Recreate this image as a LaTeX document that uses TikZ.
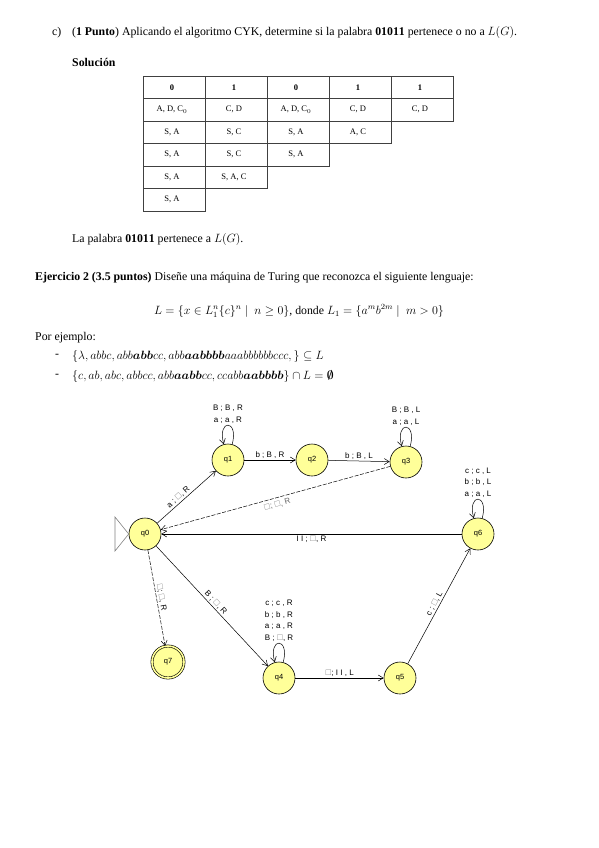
\documentclass[tikz,border=0pt]{standalone}
\usepackage{amsmath,amssymb}
\usepackage{fontspec}
\setmainfont{Liberation Serif}
\setsansfont{Liberation Sans}
\usetikzlibrary{arrows.meta}
\definecolor{amarillo}{RGB}{255,255,153}
\newcommand{\blanco}{\textcolor{black!55}{$\square$}}

\begin{document}
\begin{tikzpicture}[x=1pt,y=-1pt,>={Straight Barb[length=5pt,width=6pt]}]
\useasboundingbox (0,0) rectangle (599,848);
\tikzset{
  txt/.style={anchor=west,inner sep=0pt,font=\fontsize{11.8}{14}\selectfont},
  celda/.style={inner sep=0pt,font=\fontsize{8.5}{10}\selectfont},
  rejilla/.style={draw=black!75,line width=0.7pt},
  estado/.style={circle,draw,line width=0.6pt,fill=amarillo,minimum size=32pt,inner sep=0pt,font=\sffamily\fontsize{7.5}{9}\selectfont},
  etq/.style={inner sep=1.5pt,font=\sffamily\fontsize{8}{11.5}\selectfont},
  trans/.style={->,line width=0.5pt},
  bucle/.style={->,line width=0.5pt,out=75,in=105,looseness=8,min distance=14pt},
}

% --- Apartado c)
\node[txt] (itemc) at (52,33) {c)};
\node[txt] (enunc) at (72,33) {(\textbf{1 Punto}) Aplicando el algoritmo CYK, determine si la palabra $\mathbf{01011}$ pertenece o no a $L(G)$.};
\node[txt] (sol) at (72,62) {\textbf{Solución}};

% Tabla CYK
\def\tabx{143}
\def\taby{76}
\def\cw{62}
\def\rh{22.5}

\foreach \fila/\ncol in {0/5,1/5,2/4,3/3,4/2,5/1}
  \foreach \col in {1,...,\ncol}
    \draw[rejilla] ({\tabx+(\col-1)*\cw},{\taby+\fila*\rh}) rectangle ++(\cw,\rh);

\foreach \fila/\col/\txt in {0/1/{\textbf{0}},0/2/{\textbf{1}},0/3/{\textbf{0}},0/4/{\textbf{1}},0/5/{\textbf{1}},
    1/1/{A, D, C$_0$},1/2/{C, D},1/3/{A, D, C$_0$},1/4/{C, D},1/5/{C, D},
    2/1/{S, A},2/2/{S, C},2/3/{S, A},2/4/{A, C},
    3/1/{S, A},3/2/{S, C},3/3/{S, A},
    4/1/{S, A},4/2/{S, A, C},
    5/1/{S, A}}
  \node[celda] (c\fila\col) at ({\tabx+(\col-0.5)*\cw-2},{\taby+(\fila+0.5)*\rh}) {\txt};

\node[txt] (resp) at (72,239) {La palabra $\mathbf{01011}$ pertenece a $L(G)$.};

% --- Ejercicio 2
\node[txt] (ej2) at (35,278) {\textbf{Ejercicio 2 (3.5 puntos)} Diseñe una máquina de Turing que reconozca el siguiente lenguaje:};
\node[txt,anchor=center] (leng) at (299,311) {$L=\{x\in L_1^n\{c\}^n\mid\ n\geq 0\}$, donde $L_1=\{a^m b^{2m}\mid\ m>0\}$};
\node[txt] (ejem) at (35,338) {Por ejemplo:};
\node[txt] (guion1) at (55,356) {-};
\node[txt] (ejem1) at (72,356) {$\{\lambda, abbc, abb\boldsymbol{abb}cc, abb\boldsymbol{aabbbb}aaabbbbbbccc,\}\subseteq L$};
\node[txt] (guion2) at (55,376) {-};
\node[txt] (ejem2) at (72,376) {$\{c, ab, abc, abbcc, abb\boldsymbol{aabb}cc, ccabb\boldsymbol{aabbbb}\}\cap L=\boldsymbol{\emptyset}$};

% --- Estados
\node[estado] (q0) at (145,534) {q0};
\node[estado] (q1) at (228,460) {q1};
\node[estado] (q2) at (312,460) {q2};
\node[estado] (q3) at (406,462) {q3};
\node[estado] (q4) at (279,678) {q4};
\node[estado] (q5) at (400,678) {q5};
\node[estado] (q6) at (478,534) {q6};
\node[estado,double=amarillo,double distance=1.6pt] (q7) at (168,662) {q7};

% Estado inicial
\coordinate (ini1) at (115,517);
\coordinate (ini2) at (115,551);
\draw[gray,line width=0.6pt] (ini1) -- (q0.west) -- (ini2) -- cycle;

% --- Transiciones
\draw[trans] (q0) -- node[etq,sloped,above,pos=0.42] {a ; \blanco , R} (q1);
\draw[trans] (q1) -- node[etq,above] {b ; B , R} (q2);
\draw[trans] (q2) -- node[etq,above] {b ; B , L} (q3);
\draw[trans,dash pattern=on 4pt off 1.5pt] (q3) -- node[etq,sloped,below=2pt,text=black!60] {\blanco ; \blanco , R} (q0);
\draw[trans] (q6) -- node[etq,below] {I I ; \blanco , R} (q0);
\draw[trans,dash pattern=on 4pt off 1.5pt] (q0) -- node[etq,sloped,above] {\blanco ; \blanco , R} (q7);
\draw[trans] (q0) -- node[etq,sloped,above,pos=0.5] {B ; \blanco , R} (q4);
\draw[trans] (q4) -- node[etq,above] {\blanco ; I I , L} (q5);
\draw[trans] (q5) -- node[etq,sloped,above] {c ; \blanco , L} (q6);

% Bucles
\draw[bucle] (q1) to node[etq,above,align=center] {B ; B , R\\a ; a , R} (q1);
\draw[bucle] (q3) to node[etq,above,align=center] {B ; B , L\\a ; a , L} (q3);
\draw[bucle] (q4) to node[etq,above,align=center] {c ; c , R\\b ; b , R\\a ; a , R\\B ; \blanco , R} (q4);
\draw[bucle] (q6) to node[etq,above,align=center] {c ; c , L\\b ; b , L\\a ; a , L} (q6);

\end{tikzpicture}
\end{document}
